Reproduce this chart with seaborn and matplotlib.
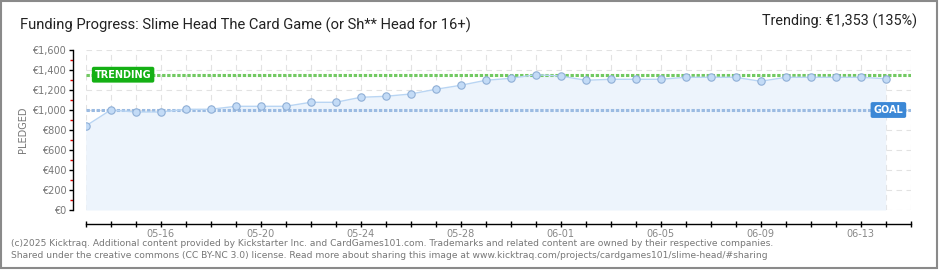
import matplotlib
matplotlib.use("Agg")
import matplotlib.pyplot as plt
import matplotlib.dates as mdates
import matplotlib.transforms as mtransforms
from matplotlib.ticker import FixedLocator, MultipleLocator, FuncFormatter
from matplotlib.patches import Rectangle
import seaborn as sns
import pandas as pd

# ---------------- data ----------------
title = "Funding Progress: Slime Head The Card Game (or Sh** Head for 16+)"
trend_text = "Trending: €1,353 (135%)"
start_date = "2025-05-13"
end_date = "2025-06-15"
pledged = [840, 1000, 980, 980, 1007, 1007, 1037, 1037, 1037, 1077, 1077,
           1127, 1137, 1160, 1207, 1247, 1297, 1317, 1353, 1340, 1297, 1307,
           1307, 1307, 1327, 1327, 1327, 1287, 1327, 1327, 1327, 1327, 1313]
goal = 1000
trending = 1353
y_label = "PLEDGED"
footer_lines = [
    "(c)2025 Kicktraq. Additional content provided by Kickstarter Inc. and CardGames101.com. "
    "Trademarks and related content are owned by their respective companies.",
    "Shared under the creative commons (CC BY-NC 3.0) license. Read more about sharing this image at "
    "www.kicktraq.com/projects/cardgames101/slime-head/#sharing",
]

dates = pd.date_range(start_date, periods=len(pledged), freq="D")
all_days = pd.date_range(start_date, end_date, freq="D")
label_days = all_days[3::4]
df = pd.DataFrame({"date": dates, "pledged": pledged})

# ---------------- style ----------------
sns.set_theme(style="white")
plt.rcParams["font.family"] = ["DejaVu Sans"]
head_font = ["Roboto", "DejaVu Sans"]

fig = plt.figure(figsize=(9.4, 2.7), dpi=100)
W, H = 940, 270
x0, x1, ytop, ybot = 85.7, 910.7, 50, 210
ax = fig.add_axes([x0 / W, (H - ybot) / H, (x1 - x0) / W, (ybot - ytop) / H])

# fill + line
ax.fill_between(df["date"], df["pledged"], 0, color="#EDF4FC", lw=0, zorder=1)
sns.lineplot(data=df, x="date", y="pledged", ax=ax, color="#B9D5F3", lw=1.0,
             marker="o", markersize=5.3, markerfacecolor="#C3DBF6",
             markeredgecolor="#8FAFD6", markeredgewidth=0.8, zorder=4)

# reference lines
ax.axhline(trending, color="#72C962", lw=2.2, ls=(0, (1.1, 0.55)), zorder=3)
ax.axhline(goal, color="#9BBBE2", lw=2.2, ls=(0, (1.1, 0.55)), zorder=3)

blend = mtransforms.blended_transform_factory(ax.transAxes, ax.transData)
ax.text(0.011, trending, "TRENDING", transform=blend, ha="left", va="center",
        fontsize=7, color="white", fontweight="bold", zorder=6,
        bbox=dict(boxstyle="round,pad=0.3,rounding_size=0.2", fc="#14B014", ec="none"))
ax.text(0.991, goal, "GOAL", transform=blend, ha="right", va="center",
        fontsize=7, color="white", fontweight="bold", zorder=6,
        bbox=dict(boxstyle="round,pad=0.3,rounding_size=0.2", fc="#3C88D6", ec="none"))

# axes limits
ax.set_xlim(all_days[0], all_days[-1])
ax.set_ylim(0, 1600)

# ticks + grid
ax.xaxis.set_minor_locator(FixedLocator(mdates.date2num(all_days)))
ax.xaxis.set_major_locator(FixedLocator(mdates.date2num(label_days)))
ax.xaxis.set_major_formatter(mdates.DateFormatter("%m-%d"))
ax.yaxis.set_major_locator(MultipleLocator(200))
ax.yaxis.set_minor_locator(MultipleLocator(100))
ax.yaxis.set_major_formatter(FuncFormatter(lambda v, p: f"€{int(v):,}"))
ax.grid(True, which="major", axis="y", color="#E2E2E2", lw=0.8, ls=(0, (5, 4)))
ax.grid(True, which="both", axis="x", color="#E2E2E2", lw=0.8, ls=(0, (5, 4)))
ax.set_axisbelow(True)

# spines
for s in ["top", "right"]:
    ax.spines[s].set_visible(False)
ax.spines["left"].set_position(("outward", 9))
ax.spines["bottom"].set_position(("outward", 10))
for s in ["left", "bottom"]:
    ax.spines[s].set_color("black")
    ax.spines[s].set_linewidth(1.0)

ax.tick_params(axis="y", which="major", direction="out", length=3, width=1,
               color="black", labelsize=7, labelcolor="#777777", pad=2, left=True)
ax.tick_params(axis="y", which="minor", direction="out", length=2, width=1,
               color="#E00000", left=True)
ax.tick_params(axis="x", which="both", direction="inout", length=5, width=1,
               color="black", bottom=True)
ax.tick_params(axis="x", which="major", labelsize=7, labelcolor="#888888", pad=1)

ax.set_xlabel("")
ax.set_ylabel(y_label, fontsize=7, color="#777777", labelpad=3)

# titles
fig.text(20 / W, 1 - 25 / H, title, fontsize=10.6, color="#222222", va="center",
         ha="left", family=head_font)
fig.text(917 / W, 1 - 21 / H, trend_text, fontsize=10.4, color="#222222", va="center",
         ha="right", family=head_font)

# footer
fig.text(11 / W, 1 - 243 / H, footer_lines[0], fontsize=6.6, color="#777777",
         va="center", ha="left")
fig.text(11 / W, 1 - 256 / H, footer_lines[1], fontsize=6.6, color="#777777",
         va="center", ha="left")

# border
fig.patches.append(Rectangle((1 / W, 2 / H), 936 / W, 267 / H, transform=fig.transFigure,
                             fill=False, ec="#8A8A8A", lw=1.5, zorder=10))

fig.savefig("out.png", dpi=100)
